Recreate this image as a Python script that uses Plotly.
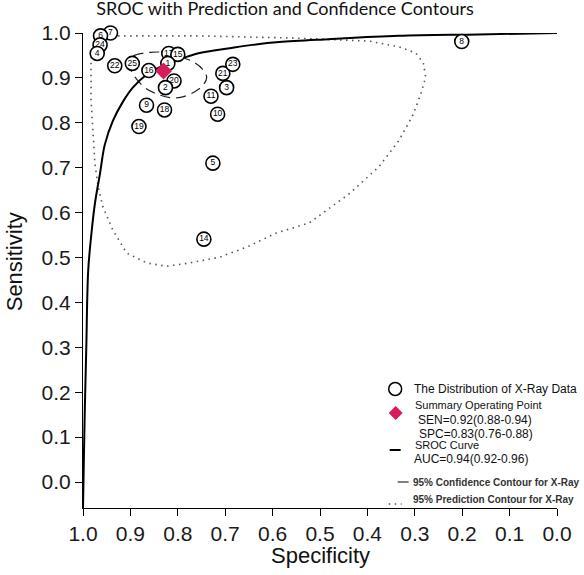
import plotly.graph_objects as go

# ---------------- data ----------------
study_labels = ["7", "6", "24", "4", "22", "25", "16", "17", "15", "1", "20", "2",
                "9", "18", "19", "11", "10", "3", "21", "23", "8", "5", "14"]
study_spec = [0.942, 0.963, 0.964, 0.970, 0.933, 0.896, 0.861, 0.819, 0.800, 0.821, 0.808, 0.826,
              0.866, 0.828, 0.882, 0.730, 0.716, 0.697, 0.705, 0.684, 0.201, 0.726, 0.745]
study_sens = [1.000, 0.994, 0.975, 0.957, 0.931, 0.936, 0.921, 0.957, 0.955, 0.936, 0.899, 0.885,
              0.848, 0.838, 0.803, 0.867, 0.829, 0.885, 0.915, 0.934, 0.982, 0.726, 0.566]

summary_spec = [0.83]
summary_sens = [0.92]

curve_spec = [1.000, 0.998, 0.996, 0.993, 0.989, 0.982, 0.975, 0.964, 0.954, 0.937, 0.916, 0.895,
              0.866, 0.838, 0.796, 0.754, 0.691, 0.643, 0.586, 0.481, 0.334, 0.166, 0.000]
curve_sens = [0.000, 0.112, 0.217, 0.340, 0.500, 0.580, 0.640, 0.705, 0.765, 0.815, 0.855, 0.885,
              0.912, 0.928, 0.945, 0.958, 0.968, 0.975, 0.981, 0.987, 0.994, 0.997, 1.000]

conf_spec = [0.901, 0.893, 0.870, 0.842, 0.817, 0.792, 0.767, 0.748, 0.739, 0.746, 0.765, 0.792,
             0.817, 0.845, 0.868, 0.887, 0.899, 0.901]
conf_sens = [0.937, 0.952, 0.958, 0.960, 0.958, 0.949, 0.939, 0.924, 0.907, 0.891, 0.876, 0.865,
             0.864, 0.872, 0.884, 0.903, 0.922, 0.937]

pred_spec = [0.926, 0.754, 0.544, 0.397, 0.334, 0.298, 0.282, 0.277, 0.286, 0.303, 0.334, 0.376,
             0.439, 0.523, 0.592, 0.655, 0.712, 0.775, 0.824, 0.866, 0.908, 0.937, 0.958, 0.968,
             0.975, 0.979, 0.983, 0.983, 0.983, 0.975, 0.954, 0.926]
pred_sens = [0.994, 0.994, 0.989, 0.983, 0.971, 0.958, 0.937, 0.907, 0.876, 0.829, 0.773, 0.718,
             0.661, 0.600, 0.579, 0.549, 0.528, 0.516, 0.509, 0.516, 0.537, 0.585, 0.634, 0.676,
             0.726, 0.785, 0.859, 0.922, 0.954, 0.981, 0.992, 0.994]

x_tick_vals = [1.0, 0.9, 0.8, 0.7, 0.6, 0.5, 0.4, 0.3, 0.2, 0.1, 0.0]
y_tick_labels = [1.0, 0.9, 0.8, 0.7, 0.6, 0.5, 0.4, 0.3, 0.2, 0.1, 0.0]
tick_text = ["1.0", "0.9", "0.8", "0.7", "0.6", "0.5", "0.4", "0.3", "0.2", "0.1", "0.0"]

title_text = "SROC with Prediction and Confidence Contours"
legend_lines = {
    "dist": "The Distribution of X-Ray Data",
    "sop": "Summary Operating Point",
    "sen": "SEN=0.92(0.88-0.94)",
    "spc": "SPC=0.83(0.76-0.88)",
    "sroc": "SROC Curve",
    "auc": "AUC=0.94(0.92-0.96)",
    "conf": "95% Confidence Contour for X-Ray",
    "pred": "95% Prediction Contour for X-Ray",
}

# ---------------- layout geometry ----------------
W, H = 584, 575
L, R, T, B = 83, 25, 33, 67
PW, PH = W - L - R, H - T - B
# in the source picture the y tick labels sit on a slightly tighter pitch than the data scale
Y_LABEL_PITCH = 449 / 475
y_tick_pos = [1 - (1 - v) * Y_LABEL_PITCH for v in y_tick_labels]


def xp(px):
    return (px - L) / PW


def yp(py):
    return (H - B - py) / PH


ARIAL = "Liberation Sans, Arial, sans-serif"
DOT = "1.5px,4.5px"

fig = go.Figure()

fig.add_trace(go.Scatter(x=pred_spec, y=pred_sens, mode="lines",
                         line=dict(color="#555555", width=1.6, dash=DOT),
                         cliponaxis=False, hoverinfo="skip"))
fig.add_trace(go.Scatter(x=conf_spec, y=conf_sens, mode="lines", line_shape="spline",
                         line=dict(color="#222222", width=1.2, dash="10px,6px"),
                         cliponaxis=False, hoverinfo="skip"))
fig.add_trace(go.Scatter(x=curve_spec, y=curve_sens, mode="lines", line_shape="spline",
                         line=dict(color="black", width=2),
                         cliponaxis=False, hoverinfo="skip"))
fig.add_trace(go.Scatter(x=study_spec, y=study_sens, mode="markers+text",
                         text=study_labels, textposition="middle center",
                         textfont=dict(family=ARIAL, size=8.5, color="black"),
                         marker=dict(symbol="circle", size=14, color="white",
                                     line=dict(color="black", width=1.6)),
                         cliponaxis=False, hoverinfo="skip"))
fig.add_trace(go.Scatter(x=summary_spec, y=summary_sens, mode="markers",
                         marker=dict(symbol="diamond", size=13, color="#D81B5C",
                                     line=dict(width=0)),
                         cliponaxis=False, hoverinfo="skip"))

axis_common = dict(ticks="outside", ticklen=7, tickwidth=1, tickcolor="black",
                   showline=True, linecolor="black", linewidth=1, showgrid=False,
                   zeroline=False, tickfont=dict(family=ARIAL, size=21, color="#1a1a1a"))

fig.update_layout(
    width=W, height=H, autosize=False,
    margin=dict(l=L, r=R, t=T, b=B, pad=0),
    paper_bgcolor="white", plot_bgcolor="white",
    showlegend=False,
    xaxis=dict(range=[1.0, 0.0], tickvals=x_tick_vals, ticktext=tick_text, **axis_common),
    yaxis=dict(range=[0.0, 1.0], tickvals=y_tick_pos, ticktext=tick_text, **axis_common),
    title=dict(text=title_text, x=285 / W, xref="container", xanchor="center",
               y=1 - 9 / H, yref="container", yanchor="middle",
               font=dict(family="Lato, Open Sans, sans-serif", size=18, color="#111111")),
)

annotations = []


def add_text(text, px, py, size, bold=False, anchor="left", angle=0, family=ARIAL, color="#111111"):
    annotations.append(dict(text=("<b>%s</b>" % text) if bold else text,
                            x=xp(px), y=yp(py), xref="paper", yref="paper",
                            xanchor=anchor, yanchor="middle", showarrow=False,
                            textangle=angle, font=dict(family=family, size=size, color=color)))


add_text("Specificity", 321, 555, 22, anchor="center")
add_text("Sensitivity", 14, 262, 22, anchor="center", angle=-90)

add_text(legend_lines["dist"], 413, 389, 12)
add_text(legend_lines["sop"], 414, 405, 11)
add_text(legend_lines["sen"], 417, 420, 12)
add_text(legend_lines["spc"], 418, 434, 12)
add_text(legend_lines["sroc"], 414, 445, 11)
add_text(legend_lines["auc"], 413, 459, 12)
add_text(legend_lines["conf"], 412, 482, 10, bold=True, color="#333333")
add_text(legend_lines["pred"], 412, 499, 10, bold=True, color="#333333")

fig.update_layout(annotations=annotations)

shapes = [
    # open circle glyph
    dict(type="circle", xref="paper", yref="paper", x0=xp(390), x1=xp(403), y0=yp(382.5), y1=yp(395.5),
         line=dict(color="black", width=1.5), fillcolor="white"),
    # diamond glyph
    dict(type="path", xref="paper", yref="paper",
         path="M %f %f L %f %f L %f %f L %f %f Z" % (xp(397), yp(406), xp(404), yp(413),
                                                      xp(397), yp(420), xp(390), yp(413)),
         fillcolor="#D81B5C", line=dict(width=0)),
    # SROC curve glyph
    dict(type="line", xref="paper", yref="paper", x0=xp(391), x1=xp(402), y0=yp(450), y1=yp(450),
         line=dict(color="black", width=2)),
    # confidence contour glyph
    dict(type="line", xref="paper", yref="paper", x0=xp(399), x1=xp(410), y0=yp(482), y1=yp(482),
         line=dict(color="#555555", width=1.5)),
    # prediction contour glyph
    dict(type="line", xref="paper", yref="paper", x0=xp(390), x1=xp(403), y0=yp(504), y1=yp(504),
         line=dict(color="#555555", width=1.5, dash=DOT)),
]
fig.update_layout(shapes=shapes)

fig.write_html("out.html")
